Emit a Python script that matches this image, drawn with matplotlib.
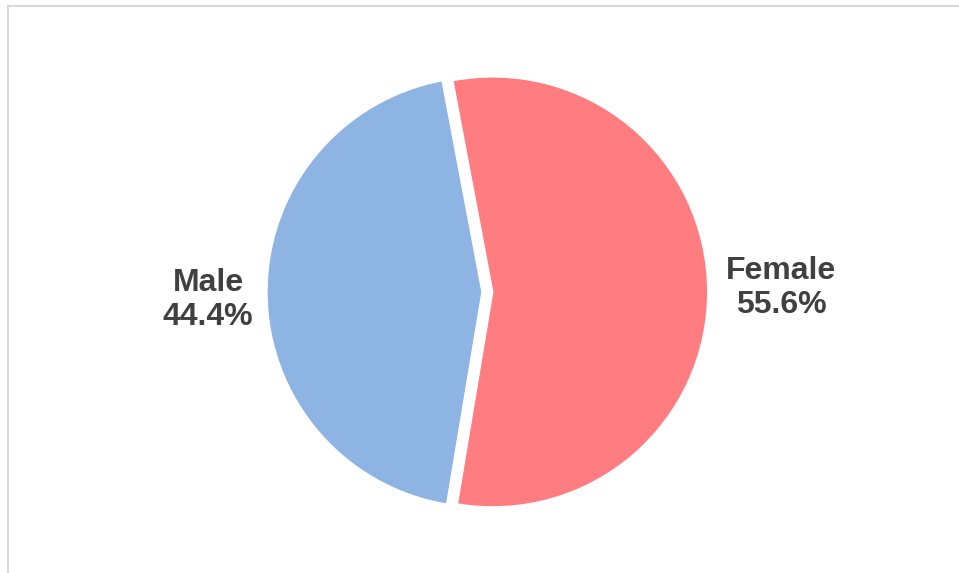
import matplotlib
matplotlib.use("Agg")
import matplotlib.pyplot as plt
from matplotlib.lines import Line2D

categories = ["Female", "Male"]
shares = [55.6, 44.4]
colors = ["#FF7C80", "#8EB4E3"]

W, H, DPI = 959, 573, 100
R_PX = 215          # pie radius in pixels
CX, CY = 482, 292   # pie centre in pixels (from top-left)

fig = plt.figure(figsize=(W / DPI, H / DPI), dpi=DPI)
ax = fig.add_axes([0, 0, 1, 1])

wedges, _ = ax.pie(
    shares,
    colors=colors,
    startangle=100.7,
    counterclock=False,
    explode=[0.05, 0],
    radius=1,
    wedgeprops=dict(edgecolor="white", linewidth=1),
)

ax.set_xlim(-CX / R_PX, (W - CX) / R_PX)
ax.set_ylim(-(H - CY) / R_PX, CY / R_PX)
ax.set_aspect("equal", adjustable="datalim")
ax.axis("off")

# labels: name over percentage
label_pos = {"Female": (781, 288), "Male": (208, 300)}
for name, val in zip(categories, shares):
    px, py = label_pos[name]
    ax.text((px - CX) / R_PX, (CY - py) / R_PX, f"{name}\n{val:.1f}%",
            ha="center", va="center", fontsize=23, fontweight="bold",
            color="#404040", family="Liberation Sans", linespacing=1.2)

# chart area frame (only top and left edges fall inside the image)
fig.add_artist(Line2D([7.5 / W, 1], [1 - 5.5 / H, 1 - 5.5 / H],
                      transform=fig.transFigure, color="#D9D9D9", lw=1.5))
fig.add_artist(Line2D([7.5 / W, 7.5 / W], [0, 1 - 5.5 / H],
                      transform=fig.transFigure, color="#D9D9D9", lw=1.5))

fig.savefig("out.png", dpi=DPI)
